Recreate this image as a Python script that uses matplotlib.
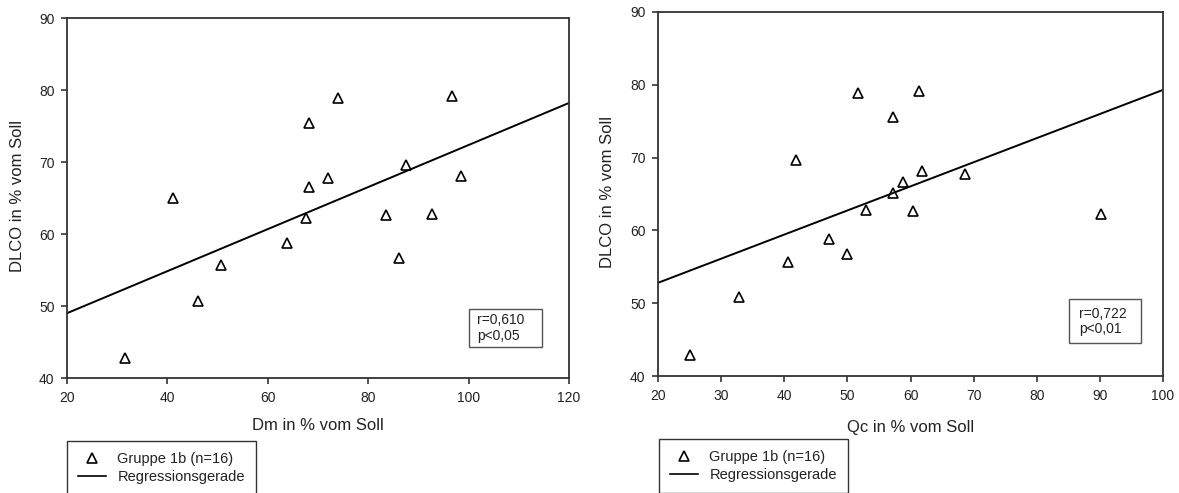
import matplotlib
matplotlib.use("Agg")
import matplotlib.pyplot as plt
from matplotlib.patches import Rectangle
from matplotlib.lines import Line2D

plt.rcParams['font.family'] = ['Liberation Sans', 'DejaVu Sans']

# left panel: Dm vs DLCO
dm_x = [31.6, 41.1, 46.1, 50.7, 63.8, 67.6, 68.2, 68.2, 72.0, 74.0,
        83.5, 86.1, 87.5, 92.7, 96.7, 98.5]
dm_y = [42.8, 65.0, 50.7, 55.7, 58.7, 62.2, 66.5, 75.4, 67.8, 78.9,
        62.6, 56.7, 69.6, 62.8, 79.2, 68.0]
dm_reg_x = [20, 120]
dm_reg_y = [49.0, 78.2]

# right panel: Qc vs DLCO
qc_x = [25.1, 32.8, 40.6, 41.9, 47.1, 49.9, 51.7, 53.0, 57.2, 57.2,
        58.8, 60.4, 61.4, 61.8, 68.7, 90.2]
qc_y = [42.9, 50.9, 55.7, 69.7, 58.8, 56.8, 78.9, 62.8, 75.6, 65.1,
        66.6, 62.7, 79.1, 68.2, 67.7, 62.2]
qc_reg_x = [20, 100]
qc_reg_y = [52.8, 79.3]

dm_ticks = [20, 40, 60, 80, 100, 120]
qc_ticks = [20, 30, 40, 50, 60, 70, 80, 90, 100]
y_ticks = [40, 50, 60, 70, 80, 90]

W, H = 1179, 493
fig = plt.figure(figsize=(W / 100, H / 100), dpi=100)
txt = '#222222'
spine_c = '#333333'


def panel(rect, x, y, rx, ry, xt, xlabel, stats, box, txtpos, legpos, xlab_y, ylab_x):
    ax = fig.add_axes(rect)
    ax.plot(x, y, '^', ms=7.5, mfc='white', mec='black', mew=1.2, ls='none')
    ax.plot(rx, ry, color='black', lw=1.4)
    ax.set_xlim(xt[0], xt[-1])
    ax.set_ylim(40, 90)
    ax.set_xticks(xt)
    ax.set_yticks(y_ticks)
    ax.tick_params(direction='out', length=4, width=1.2, color=spine_c,
                   labelsize=10, labelcolor=txt, pad=5)
    for s in ax.spines.values():
        s.set_color(spine_c)
        s.set_linewidth(1.3)
    ax.set_xlabel(xlabel, fontsize=12, color=txt)
    ax.set_ylabel('DLCO in % vom Soll', fontsize=12, color=txt)
    ax.xaxis.set_label_coords(0.5, xlab_y)
    ax.yaxis.set_label_coords(ylab_x, 0.505)
    # r / p box
    ax.add_patch(Rectangle((box[0], box[1]), box[2], box[3], transform=ax.transAxes,
                           fill=False, ec='#555555', lw=1.0))
    ax.text(txtpos[0], txtpos[1], stats, transform=ax.transAxes, fontsize=10,
            color=txt, va='center', ha='left', linespacing=1.15)
    handles = [Line2D([], [], marker='^', ls='none', ms=7, mfc='white', mec='black', mew=1.2),
               Line2D([], [], color='black', lw=1.2)]
    fig.legend(handles, ['Gruppe 1b (n=16)', 'Regressionsgerade'],
               loc='upper left', bbox_to_anchor=legpos, fontsize=10.5,
               frameon=True, fancybox=False, edgecolor='black', borderpad=0.75,
               handlelength=1.9, handletextpad=0.8, labelspacing=0.3,
               borderaxespad=0, labelcolor=txt)
    return ax


panel([67 / W, 1 - 378 / H, 502 / W, 360 / H], dm_x, dm_y, dm_reg_x, dm_reg_y,
      dm_ticks, 'Dm in % vom Soll', 'r=0,610\np<0,05',
      (0.80, 0.086, 0.146, 0.105), (0.817, 0.138), (67 / W, 1 - 441 / H),
      -0.111, -0.084)
panel([658 / W, 1 - 376 / H, 505 / W, 364 / H], qc_x, qc_y, qc_reg_x, qc_reg_y,
      qc_ticks, 'Qc in % vom Soll', 'r=0,722\np<0,01',
      (0.814, 0.091, 0.142, 0.12), (0.834, 0.15), (659 / W, 1 - 439 / H),
      -0.121, -0.085)

fig.savefig('out.png', dpi=100)
